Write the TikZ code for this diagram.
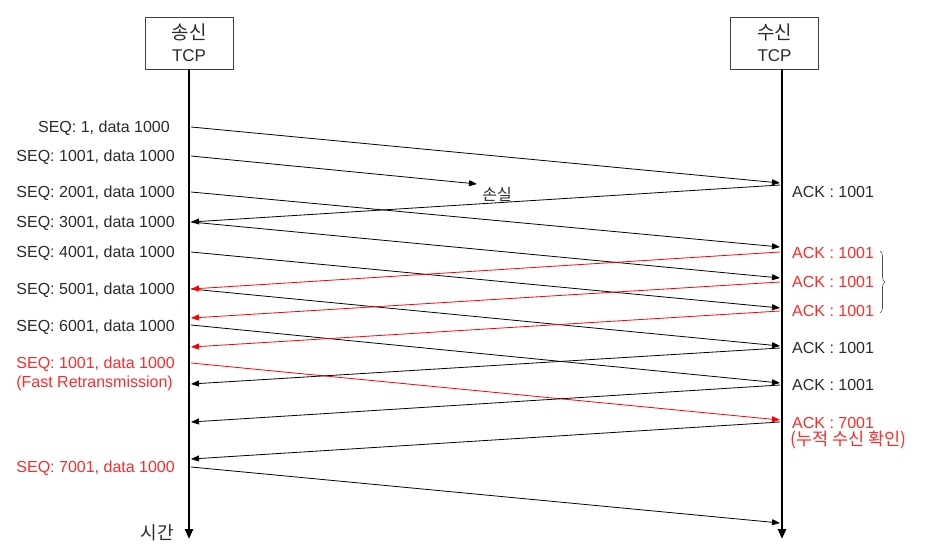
\documentclass[tikz,border=0pt]{standalone}
\usepackage{fontspec}
\setmainfont{Liberation Sans}
\newfontfamily\kr{Noto Sans CJK KR}
\usetikzlibrary{arrows.meta,decorations.pathreplacing}
\definecolor{txt}{HTML}{2A2A2A}
\definecolor{ared}{HTML}{FF0000}
\definecolor{tred}{HTML}{FF2A2A}
\begin{document}
\begin{tikzpicture}[x=1pt,y=-1pt,
  box/.style={draw=black!75,line width=0.8pt,minimum width=88pt,minimum height=52pt,align=center,
    font=\fontsize{17}{22}\selectfont,text=txt,inner sep=0pt},
  life/.style={line width=2.6pt,-{Triangle[length=10pt,width=8pt]}},
  msg/.style={line width=0.8pt,-{Triangle[length=8pt,width=6pt]}},
  redmsg/.style={msg,draw=ared,color=ared},
  lbl/.style={font=\fontsize{16}{18}\selectfont,text=txt,inner sep=0pt},
  redlbl/.style={lbl,text=tred}]
\useasboundingbox (0,0) rectangle (928,545);

% lifeline heads
\node[box] (sbox) at (189,43) {{\kr\fontsize{19}{22}\selectfont 송신}\\TCP};
\node[box] (rbox) at (774.5,43) {{\kr\fontsize{19}{22}\selectfont 수신}\\TCP};
\coordinate (sEnd) at (189,539);
\coordinate (rEnd) at (782,539);
\draw[life] (sbox.south) -- (sEnd);
\draw[life] (rbox.south -| rEnd) -- (rEnd);

% sender side points
\foreach \y in {127,156,192,222,252,289,318,325,347,363,384,422,459,467}
  \coordinate (s\y) at (191,\y);
% receiver side points
\foreach \y in {183,185,247,252,278,282,308,311,346,348,383,385,420,422,523}
  \coordinate (r\y) at (780,\y);
\coordinate (lost) at (477,184);

% data segments
\draw[msg] (s127) -- (r183);
\draw[msg] (s156) -- (lost);
\draw[msg] (s192) -- (r247);
\draw[msg] (s222) -- (r278);
\draw[msg] (s252) -- (r308);
\draw[msg] (s289) -- (r346);
\draw[msg] (s325) -- (r383);
\draw[redmsg] (s363) -- (r420);
\draw[msg] (s467) -- (r523);

% acks
\draw[msg] (r185) -- (s222);
\draw[redmsg] (r252) -- (s289);
\draw[redmsg] (r282) -- (s318);
\draw[redmsg] (r311) -- (s347);
\draw[msg] (r348) -- (s384);
\draw[msg] (r385) -- (s422);
\draw[msg] (r422) -- (s459);

% sender labels
\node[lbl,anchor=mid east] (l1) at (170,130) {SEQ: 1, data 1000};
\node[lbl,anchor=mid east] (l2) at (175,159) {SEQ: 1001, data 1000};
\node[lbl,anchor=mid east] (l3) at (175,195) {SEQ: 2001, data 1000};
\node[lbl,anchor=mid east] (l4) at (175,225) {SEQ: 3001, data 1000};
\node[lbl,anchor=mid east] (l5) at (175,255) {SEQ: 4001, data 1000};
\node[lbl,anchor=mid east] (l6) at (175,292) {SEQ: 5001, data 1000};
\node[lbl,anchor=mid east] (l7) at (175,329) {SEQ: 6001, data 1000};
\node[redlbl,anchor=mid east] (l8) at (175,366) {SEQ: 1001, data 1000};
\node[redlbl,anchor=mid east] (l9) at (173,385) {(Fast Retransmission)};
\node[redlbl,anchor=mid east] (l10) at (175,470) {SEQ: 7001, data 1000};

% receiver labels
\node[lbl,anchor=mid west] (a1) at (792,195) {ACK : 1001};
\node[redlbl,anchor=mid west] (a2) at (792,256) {ACK : 1001};
\node[redlbl,anchor=mid west] (a3) at (792,285) {ACK : 1001};
\node[redlbl,anchor=mid west] (a4) at (792,314) {ACK : 1001};
\node[lbl,anchor=mid west] (a5) at (792,351) {ACK : 1001};
\node[lbl,anchor=mid west] (a6) at (792,388) {ACK : 1001};
\node[redlbl,anchor=mid west] (a7) at (792,426) {ACK : 7001};
\node[redlbl,anchor=mid west,font=\kr\fontsize{17.5}{18}\selectfont] (a8) at (790,443) {(누적 수신 확인)};

% other labels
\node[lbl,font=\kr\fontsize{16}{18}\selectfont] (loss) at (497,194) {손실};
\node[lbl,font=\kr\fontsize{18}{18}\selectfont] (time) at (157,533) {시간};

% brace
\draw[line width=0.6pt,black!70,decorate,decoration={brace,amplitude=5pt}] (880,251) -- (880,313);
\end{tikzpicture}
\end{document}
